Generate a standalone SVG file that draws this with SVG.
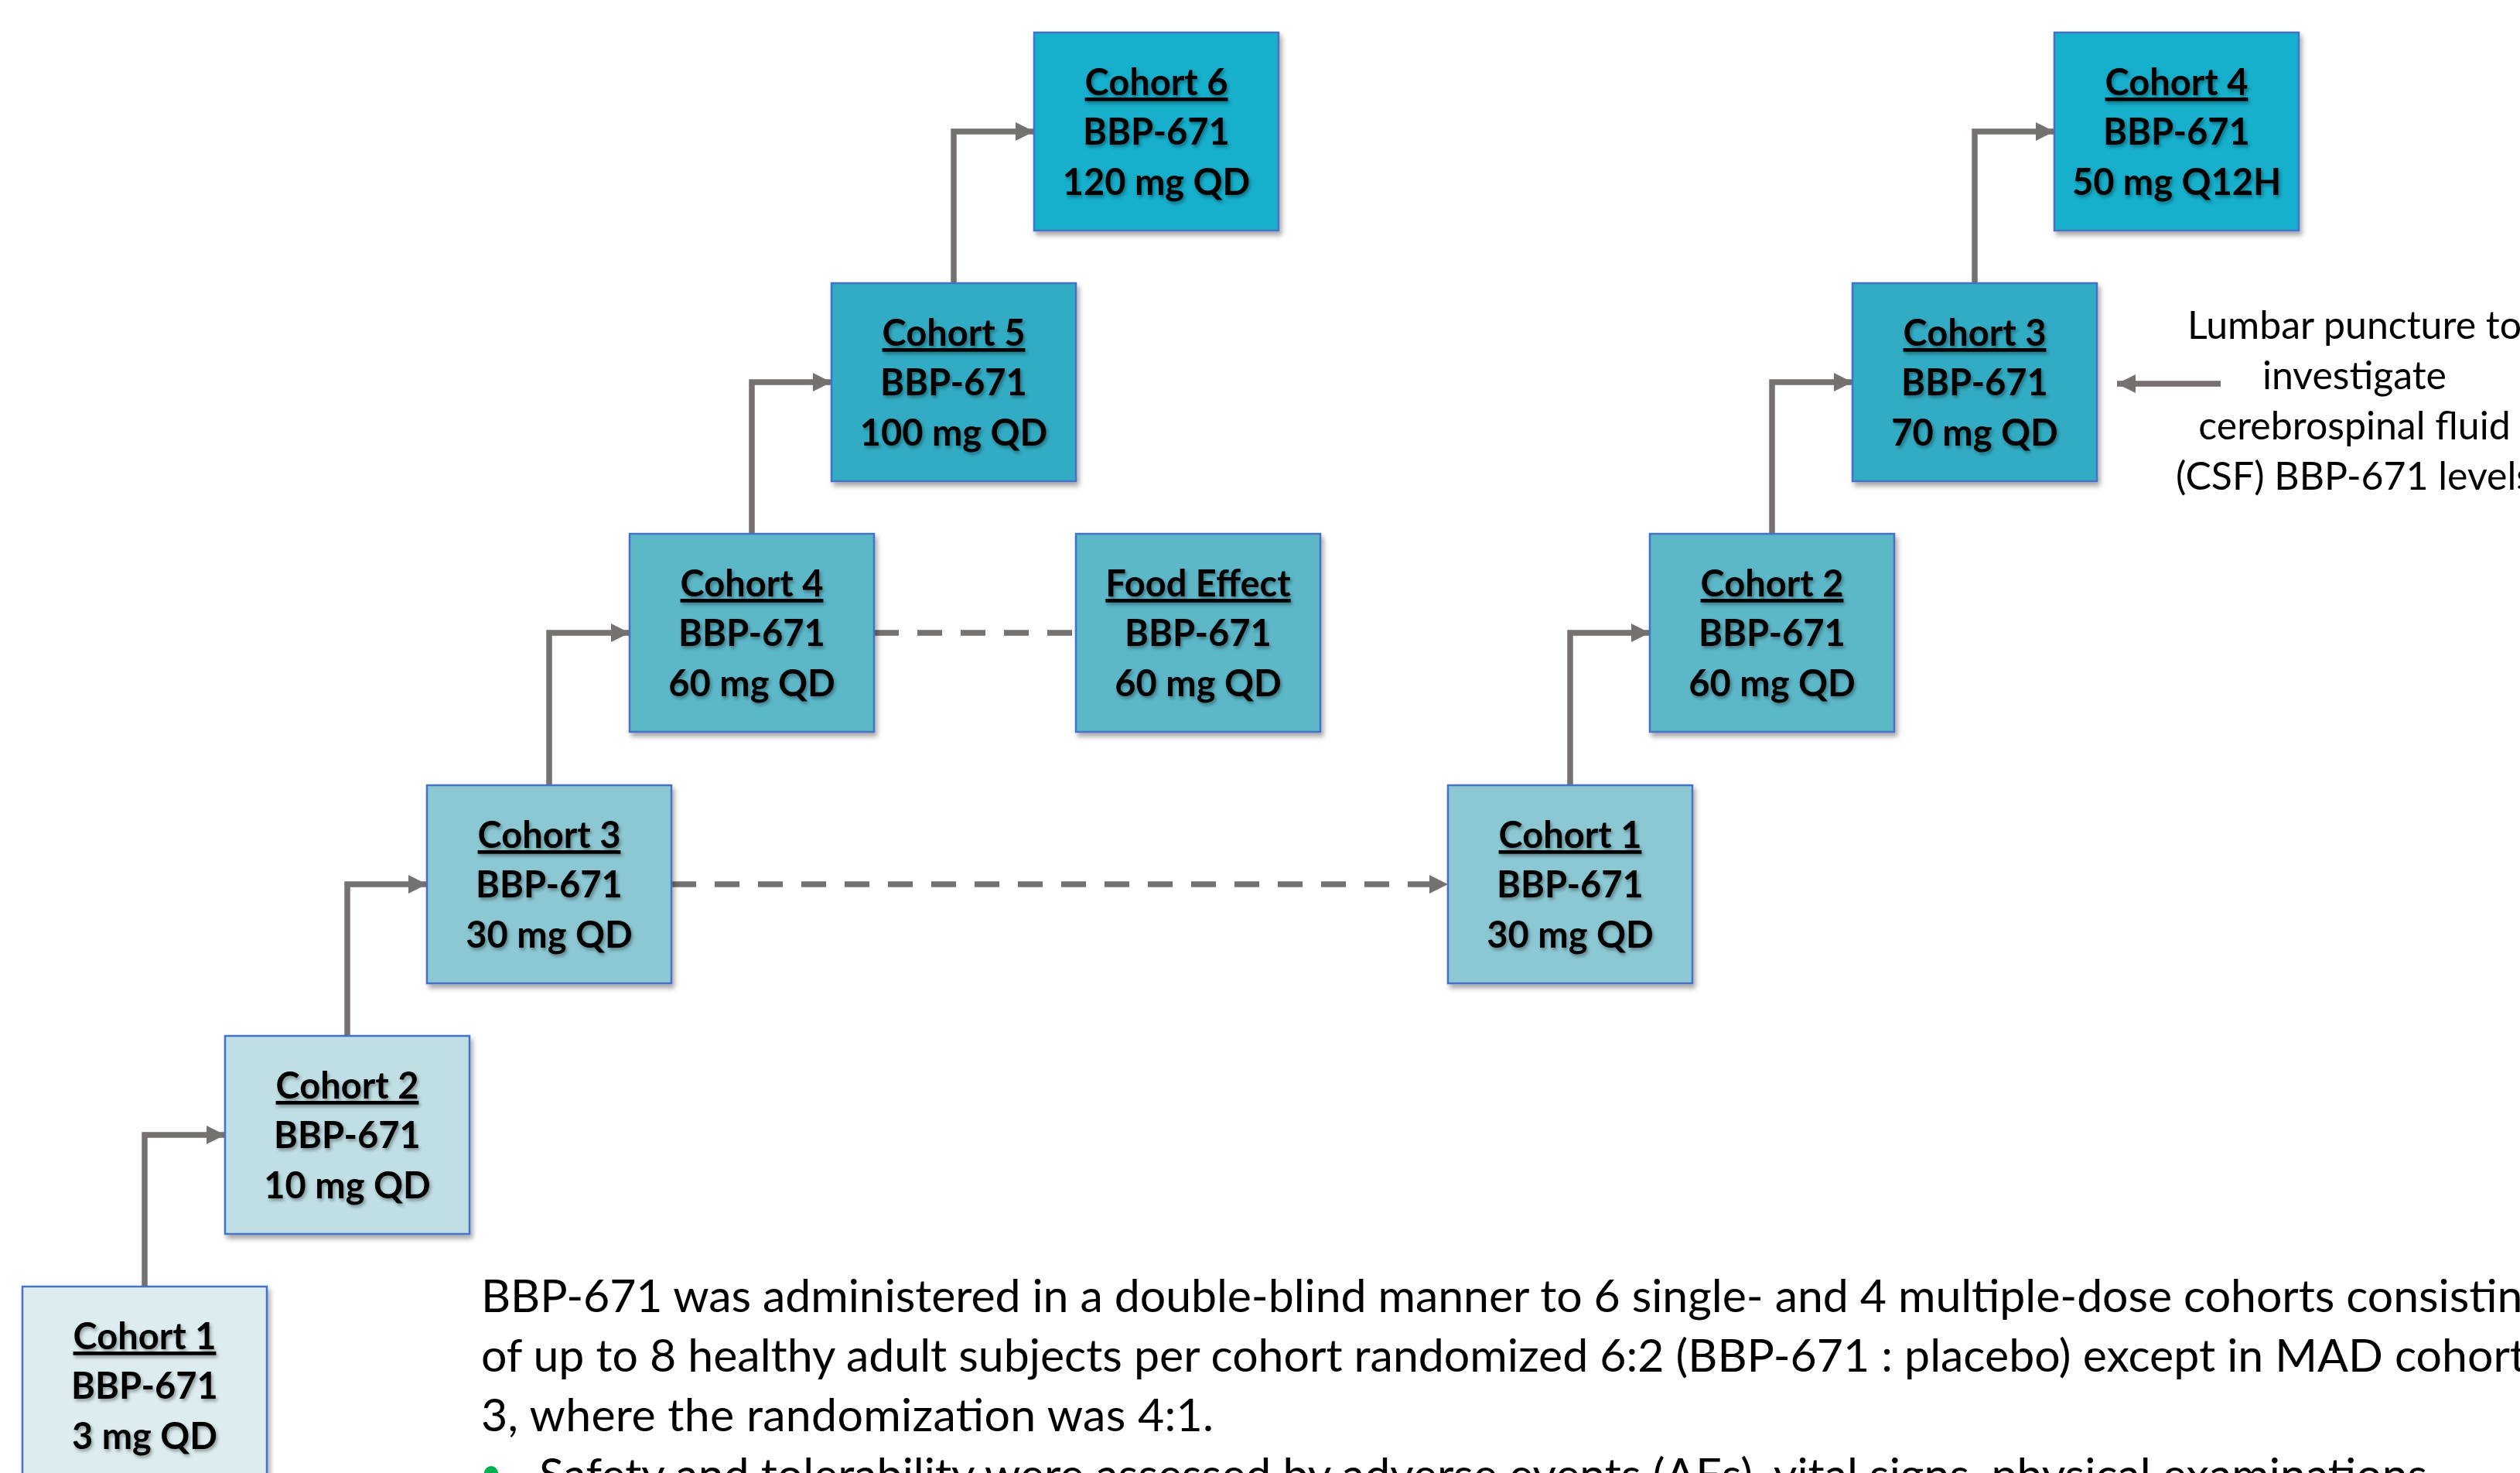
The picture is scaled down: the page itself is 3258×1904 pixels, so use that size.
<svg xmlns="http://www.w3.org/2000/svg" width="3258" height="1904" viewBox="0 0 3258 1904">
<defs>
  <filter id="boxShadow" x="-10%" y="-10%" width="125%" height="125%">
    <feDropShadow dx="3" dy="5" stdDeviation="3" flood-color="#000" flood-opacity="0.35"/>
  </filter>
  <filter id="txtShadow" x="-10%" y="-20%" width="125%" height="150%">
    <feDropShadow dx="2" dy="3" stdDeviation="2" flood-color="#000" flood-opacity="0.35"/>
  </filter>
  <marker id="arrow" markerUnits="userSpaceOnUse" viewBox="0 0 24 24" markerWidth="24" markerHeight="24" refX="24" refY="12" orient="auto">
    <path d="M0,0 L24,12 L0,24 Z" fill="#767171"/>
  </marker>
</defs>
<style>
  .box { stroke: #4472C4; stroke-width: 2.5; filter: url(#boxShadow); }
  .lbl { font-family: Lato, "Liberation Sans", sans-serif; font-weight: 700; font-size: 47px; text-anchor: middle; fill: #000; filter: url(#txtShadow); }
  .ul { text-decoration: underline; }
  .conn { fill: none; stroke: #767171; stroke-width: 7.5; }
  .dash { stroke-dasharray: 32 24; }
  .body { font-family: Lato, "Liberation Sans", sans-serif; font-size: 59px; fill: #000; }
  .note { font-family: Lato, "Liberation Sans", sans-serif; font-size: 50px; fill: #000; text-anchor: middle; }
  .c1 { fill: #DCECEF; } .c2 { fill: #C0DFE5; } .c3 { fill: #8CC8D3; }
  .c4 { fill: #5BB7C8; } .c5 { fill: #31ACC4; } .c6 { fill: #14AFCC; }
</style>
<rect width="3258" height="1904" fill="#fff"/>

<g id="connectors">
  <path class="conn" d="M187,1663 V1467 H291" marker-end="url(#arrow)"/>
  <path class="conn" d="M449,1339 V1143 H552" marker-end="url(#arrow)"/>
  <path class="conn" d="M710,1015 V818 H814" marker-end="url(#arrow)"/>
  <path class="conn" d="M972,690 V494 H1075" marker-end="url(#arrow)"/>
  <path class="conn" d="M1233,366 V170 H1337" marker-end="url(#arrow)"/>
  <path class="conn" d="M2030,1015 V818 H2133" marker-end="url(#arrow)"/>
  <path class="conn" d="M2291,690 V494 H2395" marker-end="url(#arrow)"/>
  <path class="conn" d="M2553,366 V170 H2656" marker-end="url(#arrow)"/>
  <path class="conn dash" d="M868,1143 H1872" marker-end="url(#arrow)"/>
  <path class="conn dash" d="M1130,818 H1391"/>
  <path class="conn" d="M2871,496 H2737" marker-end="url(#arrow)"/>
</g>

<g id="sad-cohort1">
  <rect class="box c1" x="29" y="1663" width="316" height="256"/>
  <text class="lbl" x="187" y="1744"><tspan class="ul">Cohort 1</tspan><tspan x="187" y="1808">BBP-671</tspan><tspan x="187" y="1873">3 mg QD</tspan></text>
</g>
<g id="sad-cohort2">
  <rect class="box c2" x="291" y="1339" width="316" height="256"/>
  <text class="lbl" x="449" y="1420"><tspan class="ul">Cohort 2</tspan><tspan x="449" y="1484">BBP-671</tspan><tspan x="449" y="1549">10 mg QD</tspan></text>
</g>
<g id="sad-cohort3">
  <rect class="box c3" x="552" y="1015" width="316" height="256"/>
  <text class="lbl" x="710" y="1096"><tspan class="ul">Cohort 3</tspan><tspan x="710" y="1160">BBP-671</tspan><tspan x="710" y="1225">30 mg QD</tspan></text>
</g>
<g id="sad-cohort4">
  <rect class="box c4" x="814" y="690" width="316" height="256"/>
  <text class="lbl" x="972" y="771"><tspan class="ul">Cohort 4</tspan><tspan x="972" y="835">BBP-671</tspan><tspan x="972" y="900">60 mg QD</tspan></text>
</g>
<g id="sad-cohort5">
  <rect class="box c5" x="1075" y="366" width="316" height="256"/>
  <text class="lbl" x="1233" y="447"><tspan class="ul">Cohort 5</tspan><tspan x="1233" y="511">BBP-671</tspan><tspan x="1233" y="576">100 mg QD</tspan></text>
</g>
<g id="sad-cohort6">
  <rect class="box c6" x="1337" y="42" width="316" height="256"/>
  <text class="lbl" x="1495" y="123"><tspan class="ul">Cohort 6</tspan><tspan x="1495" y="187">BBP-671</tspan><tspan x="1495" y="252">120 mg QD</tspan></text>
</g>
<g id="food-effect">
  <rect class="box c4" x="1391" y="690" width="316" height="256"/>
  <text class="lbl" x="1549" y="771"><tspan class="ul">Food Effect</tspan><tspan x="1549" y="835">BBP-671</tspan><tspan x="1549" y="900">60 mg QD</tspan></text>
</g>
<g id="mad-cohort1">
  <rect class="box c3" x="1872" y="1015" width="316" height="256"/>
  <text class="lbl" x="2030" y="1096"><tspan class="ul">Cohort 1</tspan><tspan x="2030" y="1160">BBP-671</tspan><tspan x="2030" y="1225">30 mg QD</tspan></text>
</g>
<g id="mad-cohort2">
  <rect class="box c4" x="2133" y="690" width="316" height="256"/>
  <text class="lbl" x="2291" y="771"><tspan class="ul">Cohort 2</tspan><tspan x="2291" y="835">BBP-671</tspan><tspan x="2291" y="900">60 mg QD</tspan></text>
</g>
<g id="mad-cohort3">
  <rect class="box c5" x="2395" y="366" width="316" height="256"/>
  <text class="lbl" x="2553" y="447"><tspan class="ul">Cohort 3</tspan><tspan x="2553" y="511">BBP-671</tspan><tspan x="2553" y="576">70 mg QD</tspan></text>
</g>
<g id="mad-cohort4">
  <rect class="box c6" x="2656" y="42" width="316" height="256"/>
  <text class="lbl" x="2814" y="123"><tspan class="ul">Cohort 4</tspan><tspan x="2814" y="187">BBP-671</tspan><tspan x="2814" y="252">50 mg Q12H</tspan></text>
</g>

<g id="lumbar-note">
  <text class="note" x="3044" y="438">Lumbar puncture to</text>
  <text class="note" x="3044" y="503">investigate</text>
  <text class="note" x="3044" y="568">cerebrospinal fluid</text>
  <text class="note" x="3044" y="633">(CSF) BBP-671 levels</text>
</g>

<g id="description">
  <text class="body" x="622" y="1696" textLength="2670">BBP-671 was administered in a double-blind manner to 6 single- and 4 multiple-dose cohorts consisting</text>
  <text class="body" x="622" y="1773" textLength="2644">of up to 8 healthy adult subjects per cohort randomized 6:2 (BBP-671 : placebo) except in MAD cohort</text>
  <text class="body" x="622" y="1850" textLength="947">3, where the randomization was 4:1.</text>
  <circle cx="635" cy="1904" r="9" fill="#00B050"/>
  <text class="body" x="697" y="1927">Safety and tolerability were assessed by adverse events (AEs), vital signs, physical examinations</text>
</g>
</svg>
